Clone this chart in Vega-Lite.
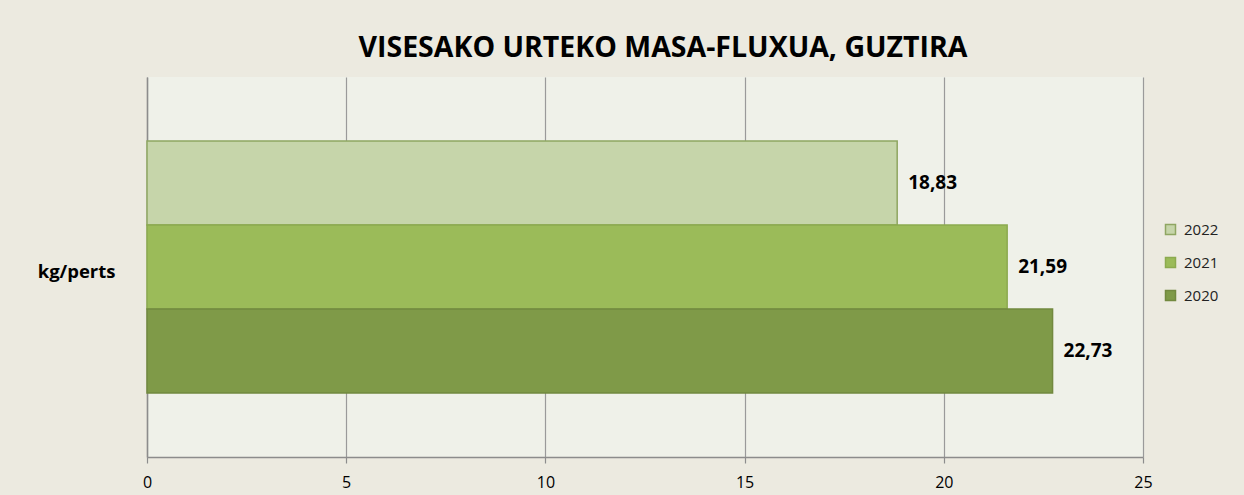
{
  "$schema": "https://vega.github.io/schema/vega-lite/v6.json",
  "autosize": {"type": "none"},
  "padding": {"left": 147, "top": 77, "right": 101, "bottom": 38},
  "width": 996,
  "height": 380,
  "background": "#ECEAE0",
  "title": {
    "text": "VISESAKO URTEKO MASA-FLUXUA, GUZTIRA",
    "font": "Open Sans",
    "fontSize": 28.5,
    "fontWeight": "bold",
    "color": "#000000",
    "anchor": "middle",
    "dx": 18,
    "offset": 15
  },
  "config": {
    "locale": {"number": {"decimal": ",", "thousands": ".", "grouping": [3], "currency": ["", " €"]}},
    "view": {"fill": "#EFF1E9", "stroke": null},
    "font": "Open Sans"
  },
  "data": {
    "values": [
      {"cat": "kg/perts", "year": "2022", "value": 18.83},
      {"cat": "kg/perts", "year": "2021", "value": 21.59},
      {"cat": "kg/perts", "year": "2020", "value": 22.73}
    ]
  },
  "encoding": {
    "y": {
      "field": "cat",
      "type": "nominal",
      "scale": {"paddingInner": 0, "paddingOuter": 0.254},
      "axis": {
        "title": null,
        "ticks": false,
        "labelPadding": 32,
        "labelFont": "Open Sans",
        "labelFontSize": 18.5,
        "labelFontWeight": "bold",
        "labelColor": "#000000",
        "labelOffset": 5,
        "domainColor": "#8C8C8C",
        "domainWidth": 1.5
      }
    },
    "yOffset": {
      "field": "year",
      "type": "nominal",
      "sort": ["2022", "2021", "2020"],
      "scale": {"paddingInner": 0, "paddingOuter": 0}
    },
    "x": {
      "field": "value",
      "type": "quantitative",
      "scale": {"domain": [0, 25], "nice": false},
      "axis": {
        "title": null,
        "values": [0, 5, 10, 15, 20, 25],
        "grid": true,
        "gridColor": "#9A9A9A",
        "gridWidth": 1.2,
        "domainColor": "#8C8C8C",
        "domainWidth": 1.5,
        "tickColor": "#8C8C8C",
        "tickSize": 6,
        "tickWidth": 1.2,
        "labelPadding": 11,
        "labelFlush": false,
        "labelFont": "Open Sans",
        "labelFontSize": 16,
        "labelColor": "#000000"
      }
    }
  },
  "layer": [
    {
      "mark": {"type": "bar", "strokeWidth": 1.5},
      "encoding": {
        "fill": {
          "field": "year",
          "type": "nominal",
          "sort": ["2022", "2021", "2020"],
          "scale": {"domain": ["2022", "2021", "2020"], "range": ["#C6D5AA", "#9BBB59", "#7F9A48"]},
          "legend": {
            "title": null,
            "orient": "none",
            "legendX": 1016,
            "legendY": 145,
            "symbolType": "square",
            "symbolSize": 100,
            "symbolStrokeWidth": 1.5,
            "labelFont": "Open Sans",
            "labelFontSize": 15,
            "labelColor": "#222222",
            "labelOffset": 6,
            "rowPadding": 16
          }
        },
        "stroke": {
          "field": "year",
          "type": "nominal",
          "sort": ["2022", "2021", "2020"],
          "scale": {"domain": ["2022", "2021", "2020"], "range": ["#8FA662", "#8CAA4F", "#72893F"]},
          "legend": null
        }
      }
    },
    {
      "mark": {
        "type": "text",
        "align": "left",
        "baseline": "middle",
        "dx": 11,
        "font": "Open Sans",
        "fontSize": 19,
        "fontWeight": "bold",
        "color": "#000000"
      },
      "encoding": {
        "text": {"field": "value", "type": "quantitative", "format": ".2f"}
      }
    }
  ]
}
